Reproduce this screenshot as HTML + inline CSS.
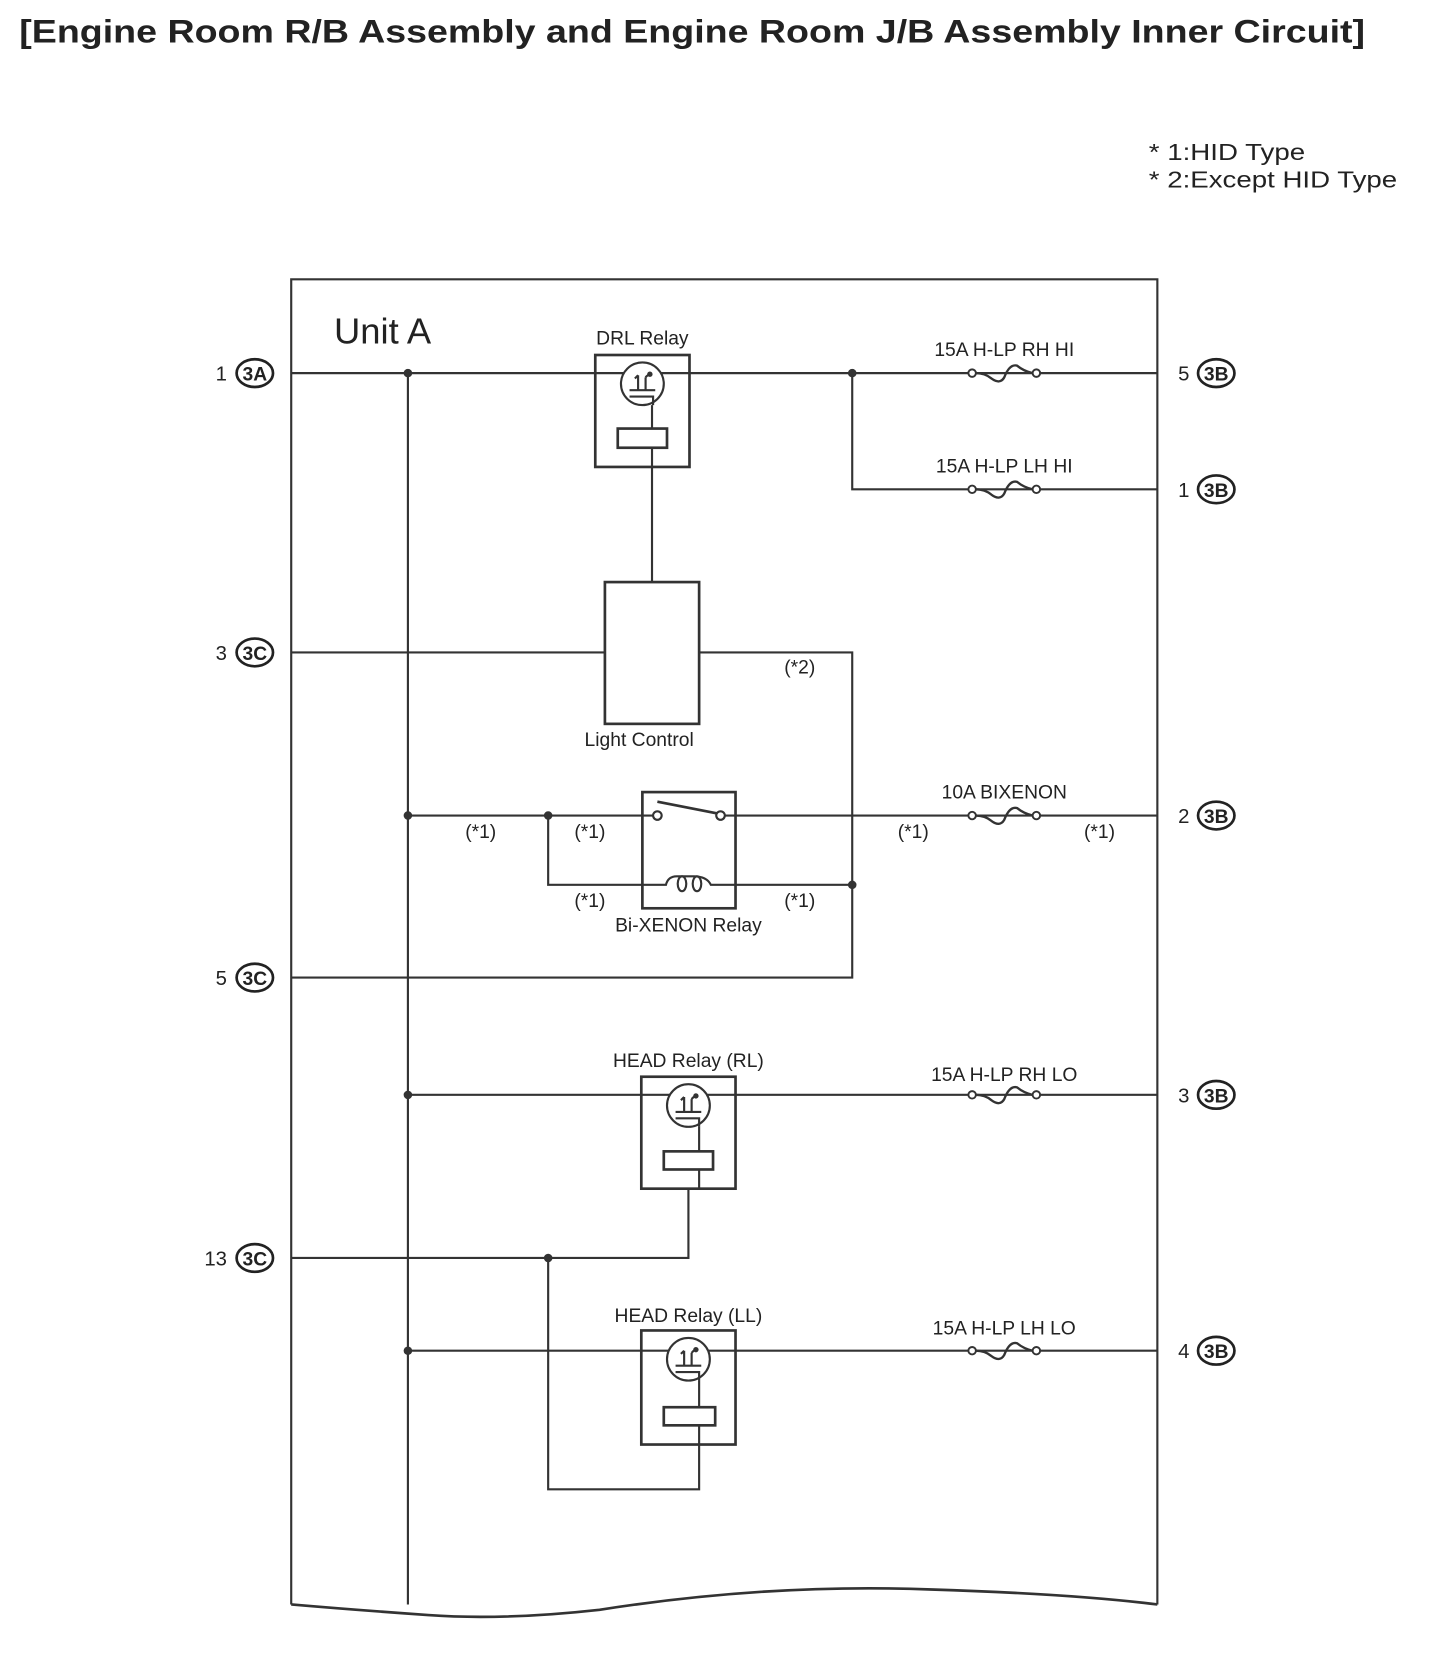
<!DOCTYPE html>
<html><head><meta charset="utf-8"><style>
html,body{margin:0;padding:0;background:#fff;width:1440px;height:1678px;overflow:hidden}
svg{display:block}
text{font-family:"Liberation Sans",sans-serif;fill:#222}
</style></head><body>
<svg width="1440" height="1678" viewBox="0 0 1345 1574" preserveAspectRatio="none" xmlns="http://www.w3.org/2000/svg">
<defs>
<g id="pin"><ellipse cx="0" cy="0" rx="17" ry="13" fill="#fff" stroke="#222" stroke-width="2.5"/></g>
<g id="fuse"><circle cx="-30" cy="0" r="3.5" fill="#fff" stroke="#333" stroke-width="1.8"/><circle cx="30" cy="0" r="3.5" fill="#fff" stroke="#333" stroke-width="1.8"/><path d="M-26.5 0 Q-18 0 -12 5 Q-4 11 0 4 Q5 -9 12 -7 Q18 -2 26.5 0" fill="none" stroke="#333" stroke-width="2.2"/></g>
<g id="relsym"><circle cx="0" cy="0" r="20" fill="#fff" stroke="#333" stroke-width="2"/><path d="M-12 6 H12 M-4 -8 V6 M-7 -5 L-4 -8 M3 -6 V6 M3 -6 Q6 -10 9 -8 M-12 12 H10 V20" fill="none" stroke="#333" stroke-width="2"/><circle cx="7" cy="-9" r="2.5" fill="#333"/></g>
</defs>
<text x="18" y="40" font-size="30" font-weight="bold" textLength="1257" lengthAdjust="spacingAndGlyphs">[Engine Room R/B Assembly and Engine Room J/B Assembly Inner Circuit]</text>
<text x="1073" y="150" font-size="22" textLength="146" lengthAdjust="spacingAndGlyphs">* 1:HID Type</text>
<text x="1073" y="176" font-size="22" textLength="232" lengthAdjust="spacingAndGlyphs">* 2:Except HID Type</text>
<g fill="none" stroke="#333" stroke-width="2">
<path d="M272 1505 V262 H1081 V1505"/>
<path d="M272 1505 Q330 1510 400 1515 Q470 1520 560 1510 Q720 1485 870 1491 Q1000 1495 1081 1505" stroke-width="2.5"/>
<path d="M272 350 H556 M644 350 H1081"/>
<path d="M381 350 V1505"/>
<path d="M796 350 V459 H1081"/>
<path d="M609 420 V546"/>
<path d="M272 612 H565 M653 612 H796 V917 H272"/>
<path d="M381 765 H600 M687 765 H1081"/>
<path d="M512 765 V830 H600 M687 830 H796"/>
<path d="M381 1027 H1081"/>
<path d="M643 1097 V1180 H272"/>
<path d="M512 1180 V1397 H653 V1337"/>
<path d="M381 1267 H1081"/>
</g>
<g fill="#333">
<circle cx="381" cy="350" r="4"/><circle cx="796" cy="350" r="4"/>
<circle cx="381" cy="765" r="4"/><circle cx="512" cy="765" r="4"/><circle cx="796" cy="830" r="4"/>
<circle cx="381" cy="1027" r="4"/><circle cx="381" cy="1267" r="4"/><circle cx="512" cy="1180" r="4"/>
</g>
<text x="312" y="322" font-size="34">Unit A</text>
<rect x="556" y="333" width="88" height="105" fill="#fff" stroke="#333" stroke-width="2.5"/>
<path d="M556 350 H644" stroke="#333" stroke-width="2"/>
<use href="#relsym" x="600" y="360"/>
<path d="M609 380 V402" stroke="#333" stroke-width="2"/>
<rect x="577" y="402" width="46" height="18" fill="#fff" stroke="#333" stroke-width="2.5"/>
<path d="M609 420 V438" stroke="#333" stroke-width="2"/>
<text x="600" y="323" font-size="18" text-anchor="middle">DRL Relay</text>
<rect x="565" y="546" width="88" height="133" fill="#fff" stroke="#333" stroke-width="2.5"/>
<text x="597" y="700" font-size="18" text-anchor="middle">Light Control</text>
<text x="747" y="632" font-size="18" text-anchor="middle">(*2)</text>
<rect x="600" y="743" width="87" height="109" fill="#fff" stroke="#333" stroke-width="2.5"/>
<path d="M600 765 H610 M677 765 H687" stroke="#333" stroke-width="2"/>
<circle cx="614" cy="765" r="4" fill="#fff" stroke="#333" stroke-width="2"/>
<circle cx="673" cy="765" r="4" fill="#fff" stroke="#333" stroke-width="2"/>
<path d="M614 752 L670 763" stroke="#333" stroke-width="2.5"/>
<path d="M600 830 H622 Q624 822 632 822 Q642 822 648 822 Q660 822 664 830 H687" fill="none" stroke="#333" stroke-width="2"/>
<ellipse cx="637" cy="829" rx="4" ry="7" fill="none" stroke="#333" stroke-width="2"/>
<ellipse cx="651" cy="829" rx="4" ry="7" fill="none" stroke="#333" stroke-width="2"/>
<text x="643" y="874" font-size="18" text-anchor="middle">Bi-XENON Relay</text>
<g font-size="18" text-anchor="middle">
<text x="449" y="786">(*1)</text><text x="551" y="786">(*1)</text><text x="853" y="786">(*1)</text><text x="1027" y="786">(*1)</text>
<text x="551" y="851">(*1)</text><text x="747" y="851">(*1)</text>
</g>
<rect x="599" y="1010" width="88" height="105" fill="#fff" stroke="#333" stroke-width="2.5"/>
<path d="M599 1027 H687" stroke="#333" stroke-width="2"/>
<use href="#relsym" x="643" y="1037"/>
<path d="M653 1057 V1080" stroke="#333" stroke-width="2"/>
<rect x="620" y="1080" width="46" height="17" fill="#fff" stroke="#333" stroke-width="2.5"/>
<path d="M653 1097 V1115" stroke="#333" stroke-width="2"/>
<text x="643" y="1001" font-size="18" text-anchor="middle">HEAD Relay (RL)</text>
<rect x="599" y="1248" width="88" height="107" fill="#fff" stroke="#333" stroke-width="2.5"/>
<path d="M599 1267 H687" stroke="#333" stroke-width="2"/>
<use href="#relsym" x="643" y="1275"/>
<path d="M653 1295 V1320" stroke="#333" stroke-width="2"/>
<rect x="620" y="1320" width="48" height="17" fill="#fff" stroke="#333" stroke-width="2.5"/>
<path d="M653 1337 V1355" stroke="#333" stroke-width="2"/>
<text x="643" y="1240" font-size="18" text-anchor="middle">HEAD Relay (LL)</text>
<use href="#fuse" x="938" y="350"/><use href="#fuse" x="938" y="459"/><use href="#fuse" x="938" y="765"/><use href="#fuse" x="938" y="1027"/><use href="#fuse" x="938" y="1267"/>
<g font-size="18" text-anchor="middle">
<text x="938" y="334">15A H-LP RH HI</text>
<text x="938" y="443">15A H-LP LH HI</text>
<text x="938" y="749">10A BIXENON</text>
<text x="938" y="1014">15A H-LP RH LO</text>
<text x="938" y="1252">15A H-LP LH LO</text>
</g>
<g font-size="19">
<use href="#pin" x="238" y="350"/><text x="238" y="357" text-anchor="middle" font-size="18" font-weight="bold">3A</text><text x="212" y="357" text-anchor="end">1</text>
<use href="#pin" x="238" y="612"/><text x="238" y="619" text-anchor="middle" font-size="18" font-weight="bold">3C</text><text x="212" y="619" text-anchor="end">3</text>
<use href="#pin" x="238" y="917"/><text x="238" y="924" text-anchor="middle" font-size="18" font-weight="bold">3C</text><text x="212" y="924" text-anchor="end">5</text>
<use href="#pin" x="238" y="1180"/><text x="238" y="1187" text-anchor="middle" font-size="18" font-weight="bold">3C</text><text x="212" y="1187" text-anchor="end">13</text>
<use href="#pin" x="1136" y="350"/><text x="1136" y="357" text-anchor="middle" font-size="18" font-weight="bold">3B</text><text x="1111" y="357" text-anchor="end">5</text>
<use href="#pin" x="1136" y="459"/><text x="1136" y="466" text-anchor="middle" font-size="18" font-weight="bold">3B</text><text x="1111" y="466" text-anchor="end">1</text>
<use href="#pin" x="1136" y="765"/><text x="1136" y="772" text-anchor="middle" font-size="18" font-weight="bold">3B</text><text x="1111" y="772" text-anchor="end">2</text>
<use href="#pin" x="1136" y="1027"/><text x="1136" y="1034" text-anchor="middle" font-size="18" font-weight="bold">3B</text><text x="1111" y="1034" text-anchor="end">3</text>
<use href="#pin" x="1136" y="1267"/><text x="1136" y="1274" text-anchor="middle" font-size="18" font-weight="bold">3B</text><text x="1111" y="1274" text-anchor="end">4</text>
</g>
</svg>
</body></html>
